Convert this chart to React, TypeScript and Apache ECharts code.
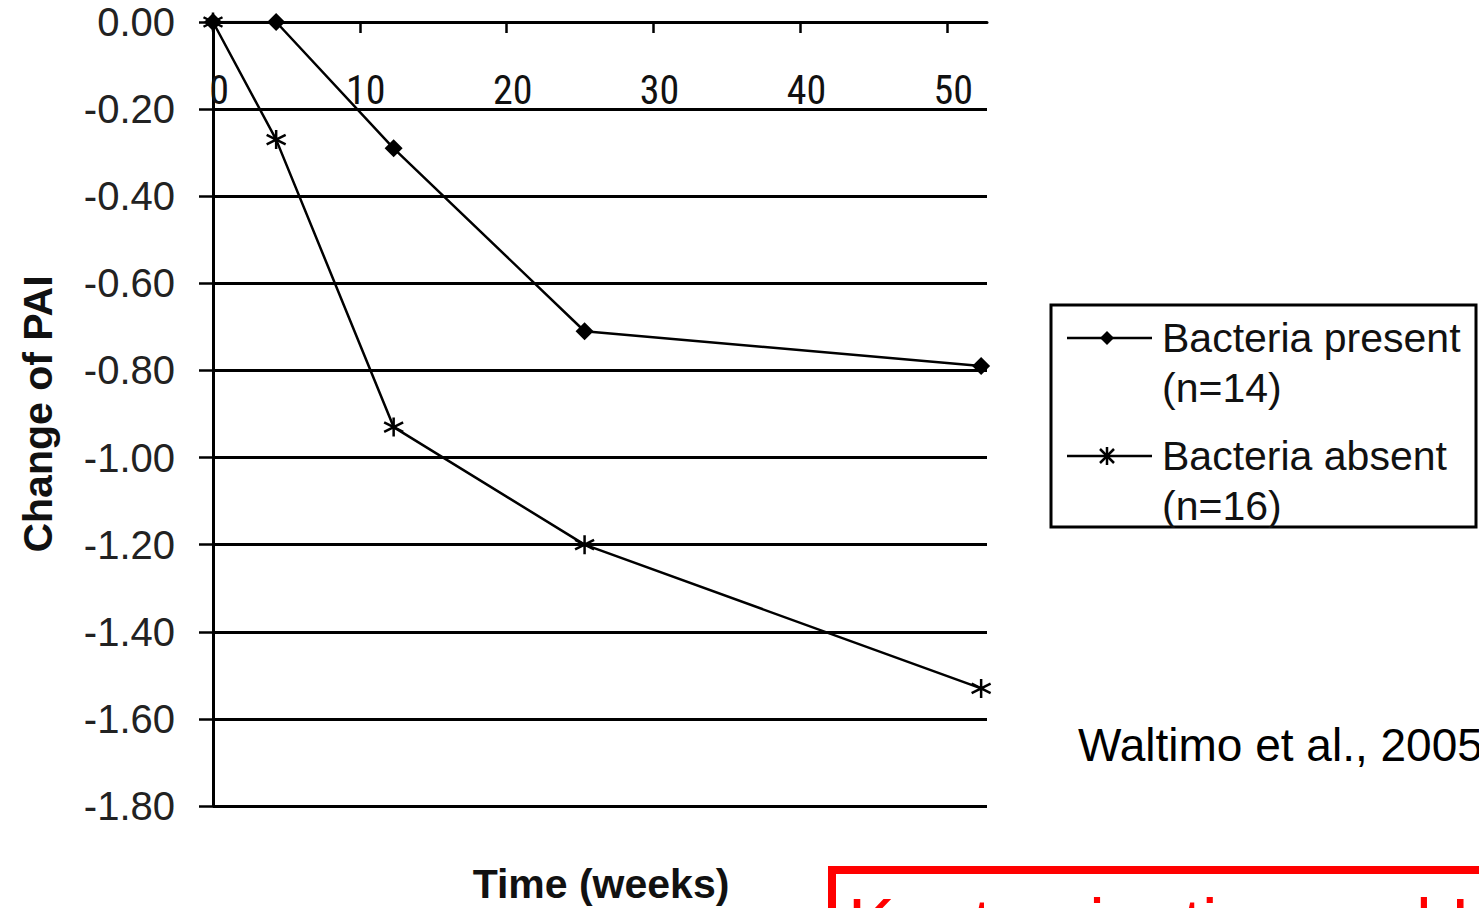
import React, { useEffect, useRef } from "react";
import * as echarts from "echarts";

const weeks = [0, 4.3, 12.3, 25.3, 52.3];
const bacteriaPresent = [0, 0, -0.29, -0.71, -0.79];
const bacteriaAbsent = [0, -0.27, -0.93, -1.2, -1.53];
const seriesNames = ["Bacteria present", "Bacteria absent"];
const seriesNotes = ["(n=14)", "(n=16)"];
const yTitle = "Change of PAI";
const xTitle = "Time (weeks)";
const citation = "Waltimo et al., 2005";
const boxText = "Kontamination und Heilung";

const ASTERISK = "path://M0,-10L0,10M-8.66,-5L8.66,5M-8.66,5L8.66,-5";

export default function App() {
  const ref = useRef<HTMLDivElement>(null);
  useEffect(() => {
    if (!ref.current) return;
    const chart = echarts.init(ref.current, null, { renderer: "svg" });
    const toPairs = (ys: number[]) => weeks.map((w, i) => [w, ys[i]]);
    const legendY = [338, 456];
    const legendGraphics: any[] = [
      {
        type: "rect",
        shape: { x: 1051, y: 305, width: 425, height: 222 },
        style: { fill: "#fff", stroke: "#000", lineWidth: 3 },
        z: 10,
      },
    ];
    seriesNames.forEach((name, i) => {
      const y = legendY[i];
      legendGraphics.push({
        type: "line",
        shape: { x1: 1067, y1: y, x2: 1152, y2: y },
        style: { stroke: "#000", lineWidth: 2.5 },
        z: 11,
      });
      if (i === 0) {
        legendGraphics.push({
          type: "polygon",
          shape: { points: [[1107, y - 7], [1114, y], [1107, y + 7], [1100, y]] },
          style: { fill: "#000" },
          z: 12,
        });
      } else {
        legendGraphics.push({
          type: "polyline",
          shape: { points: [[1100, y - 7], [1114, y + 7]] },
          style: { stroke: "#000", lineWidth: 2.5, fill: "none" },
          z: 12,
        });
        legendGraphics.push({
          type: "polyline",
          shape: { points: [[1114, y - 7], [1100, y + 7]] },
          style: { stroke: "#000", lineWidth: 2.5, fill: "none" },
          z: 12,
        });
        legendGraphics.push({
          type: "polyline",
          shape: { points: [[1107, y - 9], [1107, y + 9]] },
          style: { stroke: "#000", lineWidth: 2.5, fill: "none" },
          z: 12,
        });
      }
      legendGraphics.push({
        type: "text",
        x: 1162,
        y: y,
        style: {
          text: name,
          fill: "#111",
          font: "41px 'Liberation Sans', Arial, sans-serif",
          align: "left",
          verticalAlign: "middle",
        },
        z: 12,
      });
      legendGraphics.push({
        type: "text",
        x: 1162,
        y: y + 50,
        style: {
          text: seriesNotes[i],
          fill: "#111",
          font: "41px 'Liberation Sans', Arial, sans-serif",
          align: "left",
          verticalAlign: "middle",
        },
        z: 12,
      });
    });

    chart.setOption({
      animation: false,
      backgroundColor: "#fff",
      grid: {
        left: 213,
        top: 22,
        width: 774,
        height: 784,
        containLabel: false,
        outerBoundsMode: "none",
      },
      xAxis: {
        type: "value",
        position: "top",
        min: 0,
        max: 52.7,
        interval: 10,
        axisLine: { show: true, onZero: false, lineStyle: { color: "#000", width: 3 } },
        axisTick: { show: true, inside: true, length: 11, lineStyle: { color: "#000", width: 2.5 } },
        axisLabel: {
          inside: true,
          margin: 48,
          showMaxLabel: false,
          color: "#111",
          fontSize: 40,
          fontFamily: "'Liberation Sans Narrow', 'Arial Narrow', 'Roboto Condensed', sans-serif",
          padding: [0, 0, 0, 12],
        },
        splitLine: { show: false },
      },
      yAxis: {
        type: "value",
        min: -1.8,
        max: 0,
        interval: 0.2,
        name: yTitle,
        nameLocation: "middle",
        nameGap: 155,
        nameRotate: 90,
        nameTextStyle: {
          fontSize: 41,
          fontWeight: "bold",
          color: "#111",
          fontFamily: "'Liberation Sans', Arial, sans-serif",
        },
        axisLine: { show: true, onZero: false, lineStyle: { color: "#000", width: 3 } },
        axisTick: { show: true, length: 14, lineStyle: { color: "#000", width: 2.5 } },
        axisLabel: {
          margin: 38,
          color: "#222",
          fontSize: 40,
          fontFamily: "'Liberation Sans', Arial, sans-serif",
          formatter: (v: number) => v.toFixed(2),
        },
        splitLine: { show: true, lineStyle: { color: "#000", width: 3 } },
      },
      series: [
        {
          name: seriesNames[0],
          type: "line",
          data: toPairs(bacteriaPresent),
          symbol: "diamond",
          symbolSize: 18,
          lineStyle: { color: "#000", width: 2.5 },
          itemStyle: { color: "#000" },
          z: 4,
        },
        {
          name: seriesNames[1],
          type: "line",
          data: toPairs(bacteriaAbsent),
          symbol: ASTERISK,
          symbolSize: 19,
          lineStyle: { color: "#000", width: 2.5 },
          itemStyle: { color: "#000", borderColor: "#000", borderWidth: 2.5 },
          z: 3,
        },
      ],
      graphic: [
        ...legendGraphics,
        {
          type: "text",
          x: 601,
          y: 884,
          style: {
            text: xTitle,
            fill: "#111",
            font: "bold 41px 'Liberation Sans', Arial, sans-serif",
            align: "center",
            verticalAlign: "middle",
          },
        },
        {
          type: "text",
          x: 1078,
          y: 745,
          style: {
            text: citation,
            fill: "#000",
            font: "46px 'Liberation Sans', Arial, sans-serif",
            align: "left",
            verticalAlign: "middle",
          },
        },
        {
          type: "rect",
          shape: { x: 832, y: 870, width: 720, height: 200 },
          style: { fill: "none", stroke: "#ff0000", lineWidth: 8 },
        },
        {
          type: "text",
          x: 848,
          y: 889,
          style: {
            text: boxText,
            fill: "#ff0000",
            font: "70px 'Liberation Sans', Arial, sans-serif",
            align: "left",
            verticalAlign: "top",
          },
        },
      ],
    });
    return () => chart.dispose();
  }, []);
  return (
    <div
      ref={ref}
      style={{ position: "fixed", left: 0, top: 0, width: 1479, height: 908, background: "#fff" }}
    />
  );
}
